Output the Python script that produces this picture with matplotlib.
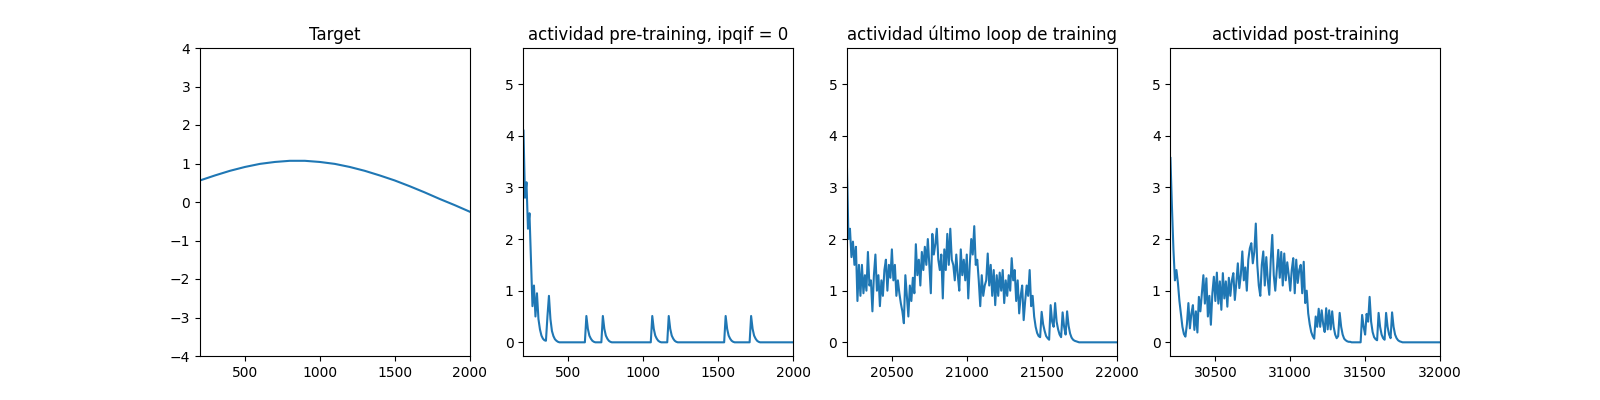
import numpy as np
import matplotlib.pyplot as plt

# --- Data ---
# target signal, sampled every 100 steps
target_t = np.arange(200, 2001, 100)
target_vals = [0.56, 0.69, 0.81, 0.91, 0.99, 1.04, 1.07, 1.07, 1.04, 0.99,
               0.91, 0.81, 0.69, 0.56, 0.41, 0.25, 0.08, -0.08, -0.25]

# activity traces, sampled every 10 steps
pre_t0 = 200
pre_vals = [4.1, 2.8, 3.1, 2.2, 2.5, 1.6, 0.7, 1.1, 0.5, 0.95,
            0.45, 0.25, 0.13, 0.07, 0.04, 0.03, 0.5, 0.9, 0.45, 0.22,
            0.12, 0.06, 0.03, 0.01, 0, 0, 0, 0, 0, 0,
            0, 0, 0, 0, 0, 0, 0, 0, 0, 0,
            0, 0, 0.51, 0.26, 0.13, 0.07, 0.03, 0.01, 0, 0,
            0, 0, 0, 0.51, 0.26, 0.13, 0.07, 0.03, 0.01, 0,
            0, 0, 0, 0, 0, 0, 0, 0, 0, 0,
            0, 0, 0, 0, 0, 0, 0, 0, 0, 0,
            0, 0, 0, 0, 0, 0, 0.51, 0.26, 0.13, 0.07,
            0.03, 0.01, 0, 0, 0, 0, 0, 0.51, 0.26, 0.13,
            0.07, 0.03, 0.01, 0, 0, 0, 0, 0, 0, 0,
            0, 0, 0, 0, 0, 0, 0, 0, 0, 0,
            0, 0, 0, 0, 0, 0, 0, 0, 0, 0,
            0, 0, 0, 0, 0, 0.51, 0.26, 0.13, 0.07, 0.03,
            0.01, 0, 0, 0, 0, 0, 0, 0, 0, 0,
            0, 0, 0.51, 0.26, 0.13, 0.07, 0.03, 0.01, 0, 0,
            0, 0, 0, 0, 0, 0, 0, 0, 0, 0,
            0, 0, 0, 0, 0, 0, 0, 0, 0, 0,
            0]

last_t0 = 20200
last_vals = [3.4, 2.0, 2.2, 1.65, 1.95, 1.5, 1.85, 0.8, 1.5, 0.9,
             1.5, 0.95, 1.3, 1.0, 1.75, 1.1, 1.2, 0.6, 1.3, 1.7,
             1.0, 1.3, 0.7, 1.2, 0.9, 1.4, 1.6, 1.0, 1.5, 1.25,
             1.8, 1.2, 1.5, 0.9, 1.2, 0.95, 0.75, 0.6, 0.37, 1.3,
             0.9, 0.5, 1.1, 0.8, 1.25, 0.95, 1.9, 1.3, 1.6, 1.1,
             1.75, 1.4, 1.85, 1.5, 2.0, 1.5, 0.95, 2.1, 1.7, 1.9,
             2.2, 1.6, 1.4, 1.7, 0.85, 1.8, 1.4, 2.1, 1.5, 2.2,
             1.6, 1.5, 1.2, 1.7, 1.3, 1.0, 1.8, 1.3, 1.6, 1.2,
             1.7, 0.85, 1.5, 2.0, 1.7, 2.25, 1.5, 1.6, 1.2, 0.7,
             1.3, 0.9, 1.1, 1.2, 1.72, 1.1, 1.5, 0.9, 1.4, 0.72,
             1.3, 0.9, 1.35, 1.0, 1.4, 0.76, 1.2, 0.9, 1.3, 1.0,
             1.63, 1.2, 1.4, 0.8, 1.2, 0.56, 0.9, 1.1, 0.43, 0.8,
             1.1, 0.9, 1.4, 0.7, 0.9, 0.5, 0.3, 0.18, 0.12, 0.1,
             0.59, 0.35, 0.22, 0.12, 0.08, 0.05, 0.72, 0.4, 0.3, 0.76,
             0.4, 0.25, 0.15, 0.1, 0.58, 0.3, 0.15, 0.6, 0.32, 0.17,
             0.09, 0.05, 0.03, 0.02, 0.01, 0, 0, 0, 0, 0,
             0, 0, 0, 0, 0, 0, 0, 0, 0, 0,
             0, 0, 0, 0, 0, 0, 0, 0, 0, 0,
             0]

post_t0 = 30200
post_vals = [3.57, 2.63, 1.8, 1.2, 1.4, 1.15, 0.8, 0.55, 0.3, 0.16,
             0.11, 0.35, 0.76, 0.27, 0.56, 0.72, 0.24, 0.6, 0.19, 0.88,
             0.6, 0.95, 1.3, 0.75, 1.24, 0.5, 0.9, 0.34, 0.95, 1.27,
             0.8, 1.35, 0.75, 1.18, 0.63, 1.34, 0.85, 1.18, 0.69, 1.25,
             0.9, 1.2, 1.34, 0.82, 1.15, 1.53, 1.05, 1.3, 1.76, 1.2,
             1.45, 1.0, 1.6, 1.82, 1.92, 1.53, 1.75, 2.3, 1.5, 1.1,
             0.9, 1.5, 1.76, 1.1, 1.65, 1.2, 0.92, 1.6, 2.08, 1.3,
             1.0, 1.4, 1.79, 1.25, 1.75, 1.1, 1.72, 1.2, 1.55, 1.3,
             1.0, 1.4, 1.63, 0.95, 1.6, 1.15, 1.4, 1.5, 0.95, 1.56,
             0.76, 1.0, 0.56, 0.35, 0.2, 0.12, 0.07, 0.5, 0.3, 0.65,
             0.3, 0.62, 0.35, 0.2, 0.66, 0.25, 0.62, 0.25, 0.6, 0.3,
             0.15, 0.08, 0.12, 0.57, 0.3, 0.15, 0.07, 0.04, 0.02, 0.01,
             0.01, 0, 0, 0, 0, 0, 0, 0, 0.53, 0.3,
             0.15, 0.55, 0.4, 0.88, 0.4, 0.2, 0.1, 0.06, 0.04, 0.57,
             0.3, 0.15, 0.08, 0.05, 0.57, 0.3, 0.15, 0.08, 0.58, 0.3,
             0.15, 0.08, 0.04, 0.02, 0.01, 0, 0, 0, 0, 0,
             0, 0, 0, 0, 0, 0, 0, 0, 0, 0,
             0, 0, 0, 0, 0, 0, 0, 0, 0, 0,
             0]

step = 10
titles = ["Target", "actividad pre-training, ipqif = 0",
          "actividad último loop de training", "actividad post-training"]

# --- Plot ---
fig, axs = plt.subplots(1, 4, figsize=(16, 4))

axs[0].plot(target_t, target_vals)
axs[0].set_xlim(200, 2000)
axs[0].set_ylim(-4, 4)
axs[0].set_title(titles[0])

traces = [(pre_t0, pre_vals), (last_t0, last_vals), (post_t0, post_vals)]
for ax, (t0, vals), title in zip(axs[1:], traces, titles[1:]):
    t = t0 + step * np.arange(len(vals))
    ax.plot(t, vals)
    ax.set_xlim(t0, t0 + 1800)
    ax.set_ylim(-0.265, 5.70)
    ax.set_title(title)

plt.savefig("out.png", dpi=100)
plt.close()
